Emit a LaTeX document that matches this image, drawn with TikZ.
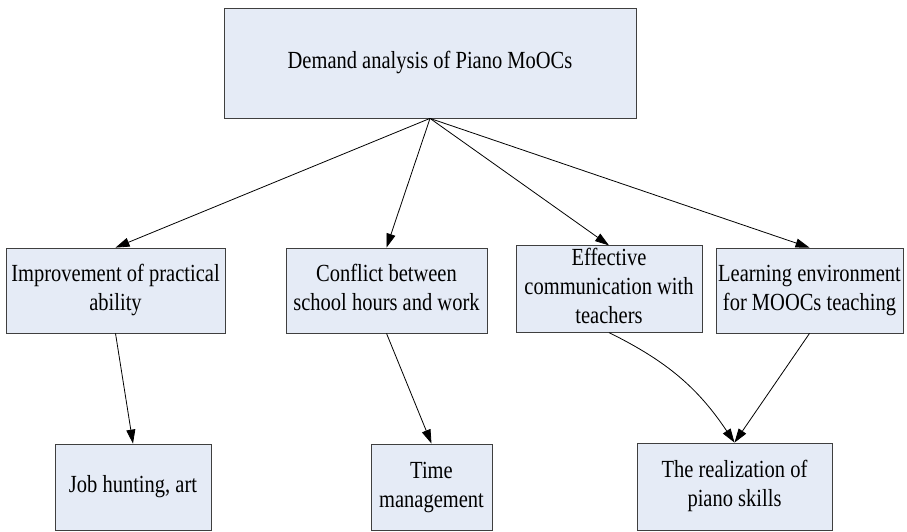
\documentclass[tikz,border=0pt]{standalone}
\usepackage{fontspec}
\setmainfont{Liberation Serif}
\usetikzlibrary{arrows.meta}

\definecolor{boxfill}{HTML}{E5EBF6}
\definecolor{boxline}{HTML}{3F3F3F}

% Box text, set a little taller than wide.
\newcommand{\boxtext}[1]{\scalebox{1}[1.2]{\begin{tabular}{@{}c@{}}#1\end{tabular}}}

\begin{document}
\begin{tikzpicture}[x=1pt,y=-1pt,line width=0.8pt,
        box/.style={draw=boxline,fill=boxfill,inner sep=0pt,
            font=\rmfamily\fontsize{20.5}{24}\selectfont},
        link/.style={black,-{Triangle[length=14pt,width=9pt]}}]

        \useasboundingbox (0,0) rectangle (907,531);

        % Top box.
        \node[box, minimum width=412pt, minimum height=110pt] (demand)
            at (430,63) {\boxtext{Demand analysis of Piano MoOCs}};

        % Middle row.
        \node[box, minimum width=219pt, minimum height=85pt] (improve)
            at (115.5,290.5) {\boxtext{Improvement of practical\\ability}};
        \node[box, minimum width=201pt, minimum height=85pt] (conflict)
            at (386.5,290.5) {\boxtext{Conflict between\\school hours and work}};
        \node[box, minimum width=186pt, minimum height=82pt] (talk)
            at (609,289) {\boxtext{Effective\\communication with\\teachers}};
        \node[box, minimum width=187pt, minimum height=85pt] (env)
            at (809.5,290.5) {\boxtext{Learning environment\\for MOOCs teaching}};

        % Bottom row.
        \node[box, minimum width=156pt, minimum height=86pt] (job)
            at (133,487) {\boxtext{Job hunting, art}};
        \node[box, minimum width=121pt, minimum height=86pt] (time)
            at (431.5,487) {\boxtext{Time\\management}};
        \node[box, minimum width=195pt, minimum height=87pt] (skills)
            at (734.5,486.5) {\boxtext{The realization of\\piano skills}};

        % Arrows from the top box.
        \draw[link] (demand.south) -- (improve.north);
        \draw[link] (demand.south) -- (conflict.north);
        \draw[link] (demand.south) -- (talk.north);
        \draw[link] (demand.south) -- (env.north);

        % Arrows down to the bottom row.
        \draw[link] (improve.south) -- (job.north);
        \draw[link] (conflict.south) -- (time.north);
        \draw[link] (talk.south) to [bend left=15] (skills.north);
        \draw[link] (env.south) -- (skills.north);
    \end{tikzpicture}
\end{document}
